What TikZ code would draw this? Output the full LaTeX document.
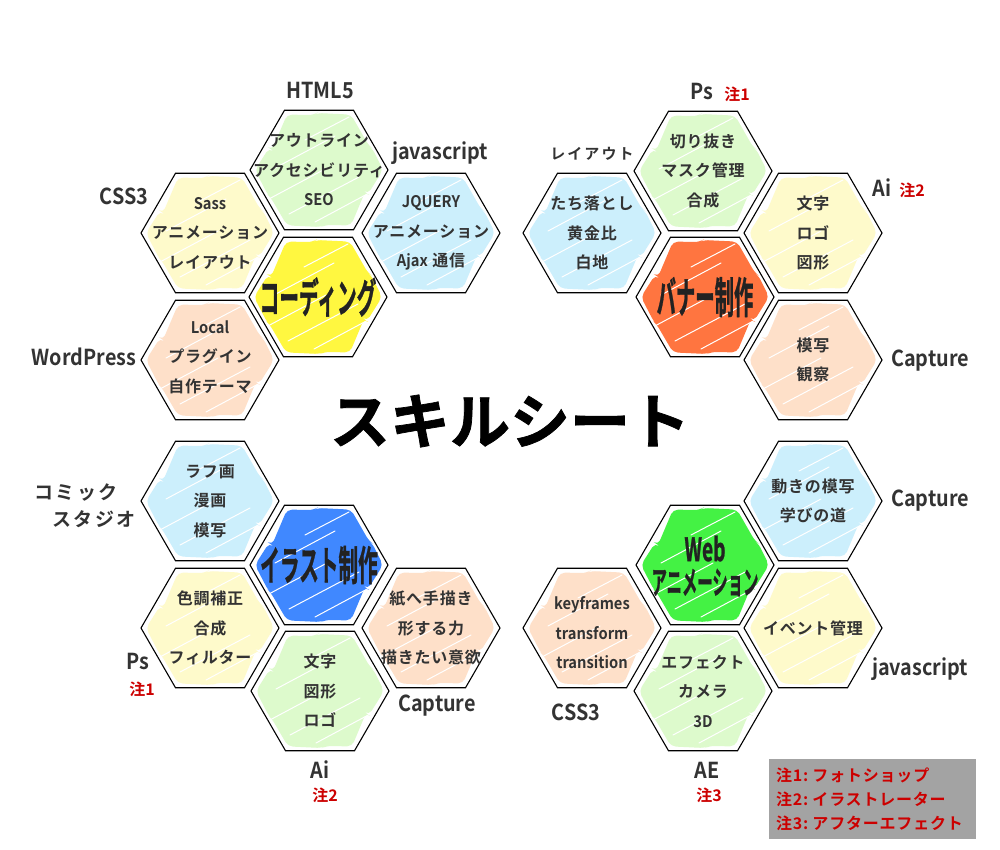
\documentclass[tikz,border=0pt]{standalone}
\usepackage{fontspec}
\setmainfont{Noto Sans CJK JP}[BoldFont={Noto Sans CJK JP Bold}]
\newfontfamily\heavyfont{Noto Sans CJK JP Bold}[FakeBold=1.2]
\newfontfamily\spacedfont{Noto Sans CJK JP Bold}[LetterSpace=5]
\newfontfamily\widefont{Noto Sans CJK JP Bold}[LetterSpace=14]
\usetikzlibrary{shapes.geometric}
\definecolor{cgreen}{HTML}{DDFACC}
\definecolor{cyellow}{HTML}{FEFACB}
\definecolor{cblue}{HTML}{CCEFFC}
\definecolor{cpeach}{HTML}{FEE0C9}
\definecolor{tyellow}{HTML}{FFF740}
\definecolor{torange}{HTML}{FF7540}
\definecolor{tblue}{HTML}{4088FF}
\definecolor{tgreen}{HTML}{44F244}
\definecolor{ink}{HTML}{333333}
\definecolor{ink2}{HTML}{222222}
\definecolor{notered}{HTML}{CC0000}
\definecolor{legendgray}{HTML}{A3A3A3}
\newcommand\cond[2]{\scalebox{#1}[1]{#2}}
\newcommand\lat[1]{{\normalfont\bfseries\cond{0.92}{#1}}}
\tikzset{
  hex/.style={regular polygon, regular polygon sides=6, minimum size=138pt,
    inner sep=0pt, outer sep=0pt, draw=black, line width=1.1pt,
    path picture={\begin{scope}[shift={(path picture bounding box.center)}]
      \fill[#1, rounded corners=5pt]
        (-64,0)--(-50,-22)--(-47,-20)--(-32,-55.4)--(-5,-55)--(-2,-57)--(32,-55.4)--(50,-24)--(53,-22)--(64,0)
        --(49,24)--(46,22)--(32,55.4)--(6,55)--(2,57)--(-32,55.4)--(-48,28)--(-51,25)--cycle;
      \draw[white, line width=1pt, line cap=round] (-52,30)--(8,-2) (-30,44)--(40,7) (-44,-2)--(16,-34) (-4,52)--(52,22) (-14,-30)--(30,-53);
    \end{scope}}},
  hextext/.style={font=\fontsize{16}{29.5}\spacedfont, text=ink, align=center, inner sep=0pt},
  bigtext/.style={font=\fontsize{41}{41}\heavyfont, text=ink2, align=center, inner sep=0pt},
  lab/.style={font=\fontsize{22}{24}\selectfont\bfseries, text=ink, inner sep=0pt},
  note/.style={font=\fontsize{16}{16}\selectfont\bfseries, text=notered, inner sep=0pt},
}
\begin{document}
\begin{tikzpicture}[x=1pt,y=-1pt]
\useasboundingbox (0,0) rectangle (1000,850);
\fill[white] (0,0) rectangle (1000,850);

% ---- cluster 1: coding
\node[hex=tyellow] (c1) at (318,297) {};
\node[hex=cgreen] (c1u) at (319,170) {};
\node[hex=cyellow] (c1ul) at (210,233) {};
\node[hex=cblue] (c1ur) at (431,233) {};
\node[hex=cpeach] (c1ll) at (210,360) {};
\node[bigtext] (t1) at (c1) {\cond{0.48}{コーディング}};
\node[hextext] (s1u) at (c1u) {アウトライン\\アクセシビリティ\\\lat{SEO}};
\node[hextext] (s1ul) at (c1ul) {\lat{Sass}\\アニメーション\\レイアウト};
\node[hextext] (s1ur) at (c1ur) {\lat{JQUERY}\\アニメーション\\\lat{Ajax} 通信};
\node[hextext,yshift=3pt] (s1ll) at (c1ll) {\lat{Local}\\プラグイン\\自作テーマ};
\node[lab] (l1a) at (320,91) {\cond{0.9}{HTML5}};
\node[lab] (l1b) at (440,153) {\cond{0.9}{javascript}};
\node[lab] (l1c) at (124,196) {\cond{0.9}{CSS3}};
\node[lab] (l1d) at (84,357) {\cond{0.9}{WordPress}};

% ---- cluster 2: banner
\node[hex=torange] (c2) at (705,297) {};
\node[hex=cgreen] (c2u) at (703,171) {};
\node[hex=cblue] (c2ul) at (592,233) {};
\node[hex=cyellow] (c2ur) at (813,233) {};
\node[hex=cpeach] (c2lr) at (813,360) {};
\node[bigtext,font=\fontsize{43}{43}\heavyfont] (t2) at (c2) {\cond{0.45}{バナー制作}};
\node[hextext] (s2u) at (c2u) {切り抜き\\マスク管理\\合成};
\node[hextext] (s2ul) at (c2ul) {たち落とし\\黄金比\\白地};
\node[hextext] (s2ur) at (c2ur) {文字\\ロゴ\\図形};
\node[hextext] (s2lr) at (c2lr) {模写\\観察};
\node[lab] (l2a) at (702,92) {\cond{0.9}{Ps}};
\node[note] (n2a) at (737,94) {注1};
\node[font=\fontsize{15}{18}\widefont, text=ink, inner sep=0pt] (l2b) at (592,154) {レイアウト};
\node[lab] (l2c) at (882,188) {\cond{0.9}{Ai}};
\node[note] (n2c) at (912,190) {注2};
\node[lab] (l2d) at (930,361) {\cond{0.9}{Capture}};

% ---- cluster 3: illustration
\node[hex=tblue] (c3) at (319,565) {};
\node[hex=cblue] (c3ul) at (210,501) {};
\node[hex=cyellow] (c3ll) at (210,628) {};
\node[hex=cgreen] (c3d) at (320,691) {};
\node[hex=cpeach] (c3lr) at (431,628) {};
\node[bigtext] (t3) at (c3) {\cond{0.48}{イラスト制作}};
\node[hextext] (s3ul) at (c3ul) {ラフ画\\漫画\\模写};
\node[hextext] (s3ll) at (c3ll) {色調補正\\合成\\フィルター};
\node[hextext] (s3d) at (c3d) {文字\\図形\\ロゴ};
\node[hextext] (s3lr) at (c3lr) {紙へ手描き\\形する力\\描きたい意欲};
\node[font=\fontsize{19}{24}\widefont, text=ink, inner sep=0pt] (l3a) at (76,493) {コミック};
\node[font=\fontsize{19}{24}\widefont, text=ink, inner sep=0pt] (l3b) at (94,519) {スタジオ};
\node[lab] (l3c) at (138,661) {\cond{0.9}{Ps}};
\node[note] (n3c) at (142,689) {注1};
\node[lab] (l3d) at (320,770) {\cond{0.9}{Ai}};
\node[note] (n3d) at (325,795) {注2};
\node[lab] (l3e) at (437,706) {\cond{0.9}{Capture}};

% ---- cluster 4: web animation
\node[hex=tgreen] (c4) at (705,565) {};
\node[hex=cblue] (c4ur) at (813,501) {};
\node[hex=cyellow] (c4lr) at (813,628) {};
\node[hex=cpeach] (c4ll) at (592,628) {};
\node[hex=cgreen] (c4d) at (703,691) {};
\node[bigtext,font=\fontsize{32}{33}\heavyfont,yshift=-1pt] (t4) at (c4) {\cond{0.6}{Web}\\\cond{0.48}{アニメーション}};
\node[hextext] (s4ur) at (c4ur) {動きの模写\\学びの道};
\node[hextext] (s4lr) at (c4lr) {イベント管理};
\node[hextext,yshift=-5pt] (s4ll) at (c4ll) {\lat{keyframes}\\\lat{transform}\\\lat{transition}};
\node[hextext] (s4d) at (c4d) {エフェクト\\カメラ\\\lat{3D}};
\node[lab] (l4a) at (930,501) {\cond{0.9}{Capture}};
\node[lab] (l4b) at (920,669) {\cond{0.9}{javascript}};
\node[lab] (l4c) at (576,712) {\cond{0.9}{CSS3}};
\node[lab] (l4d) at (707,770) {\cond{0.9}{AE}};
\node[note] (n4d) at (709,795) {注3};

% ---- title
\node[font=\fontsize{60}{60}\heavyfont, text=black, inner sep=0pt] (title) at (510,421) {スキルシート};

% ---- legend
\node[anchor=north west, fill=legendgray, minimum width=207pt, minimum height=80pt,
  text width=193pt, inner xsep=7pt, inner ysep=0pt, align=left,
  font=\fontsize{16}{24}\spacedfont, text=notered] (legend) at (769,759)
  {注1:\hspace{4pt}フォトショップ\\注2:\hspace{4pt}イラストレーター\\注3:\hspace{4pt}アフターエフェクト};
\end{tikzpicture}
\end{document}
